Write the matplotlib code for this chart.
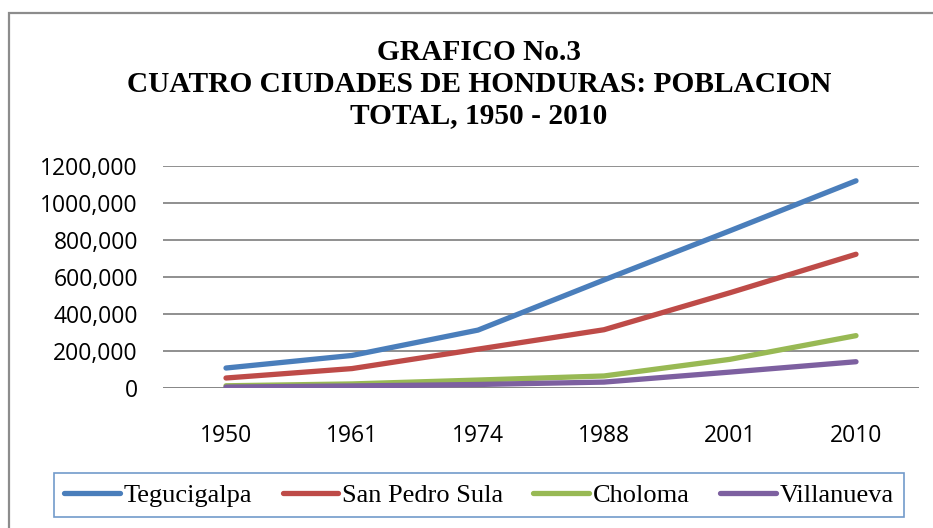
import matplotlib
matplotlib.use("Agg")
import matplotlib.pyplot as plt
from matplotlib.patches import Rectangle

years = ["1950", "1961", "1974", "1988", "2001", "2010"]
tegucigalpa = [108000, 176000, 313000, 584000, 850000, 1120000]
san_pedro_sula = [54000, 105000, 210000, 315000, 515000, 723000]
choloma = [12000, 22000, 43000, 65000, 155000, 283000]
villanueva = [5000, 11000, 19000, 32000, 86000, 142000]

y_ticks = [0, 200000, 400000, 600000, 800000, 1000000, 1200000]
y_labels = ["0", "200,000", "400,000", "600,000", "800,000", "1000,000", "1200,000"]

series = [
    ("Tegucigalpa", tegucigalpa, "#4A7EBB"),
    ("San Pedro Sula", san_pedro_sula, "#BE4B48"),
    ("Choloma", choloma, "#98B954"),
    ("Villanueva", villanueva, "#7D60A0"),
]

W, H = 933, 528
fig = plt.figure(figsize=(W / 100, H / 100), dpi=100)
ax = fig.add_axes([163 / W, 1 - 388 / H, (919 - 163) / W, (388 - 166) / H])

x = list(range(len(years)))
for name, vals, col in series:
    ax.plot(x, vals, color=col, linewidth=3.8, solid_capstyle="round",
            solid_joinstyle="round", label=name)

ax.set_xlim(-0.5, len(years) - 0.5)
ax.set_ylim(0, 1200000)
ax.set_yticks(y_ticks)
ax.set_yticklabels(y_labels)
ax.set_xticks(x)
ax.set_xticklabels(years)
ax.tick_params(length=0, labelsize=16.5)
ax.tick_params(axis="y", pad=18)
ax.tick_params(axis="x", pad=26)
for lab in ax.get_xticklabels() + ax.get_yticklabels():
    lab.set_fontfamily("Open Sans")
for s in ax.spines.values():
    s.set_visible(False)
ax.grid(axis="y", color="#878787", linewidth=1.3)
ax.set_axisbelow(True)
ax.axhline(0, color="#878787", linewidth=1.3, zorder=0)

fig.text(479 / W, 1 - 84 / H, "GRAFICO No.3\nCUATRO CIUDADES DE HONDURAS: POBLACION\nTOTAL, 1950 - 2010",
         ha="center", va="center", fontsize=21.2, fontweight="bold",
         fontfamily="Liberation Serif", linespacing=1.2)

leg = fig.legend(loc="center", bbox_to_anchor=(479 / W, 1 - 495 / H), ncol=4,
                 prop={"family": "Liberation Serif", "size": 19},
                 handlelength=2.1, handletextpad=0.15, columnspacing=1.15,
                 fancybox=False, borderpad=0.4)
leg.get_frame().set_edgecolor("#4F81BD")
leg.get_frame().set_linewidth(1.2)

fig.patches.append(Rectangle((9 / W, -0.1), 1.2, (H - 13) / H + 0.1,
                             transform=fig.transFigure, fill=False,
                             edgecolor="#8C8C8C", linewidth=1.6))

fig.savefig("out.png", dpi=100)
